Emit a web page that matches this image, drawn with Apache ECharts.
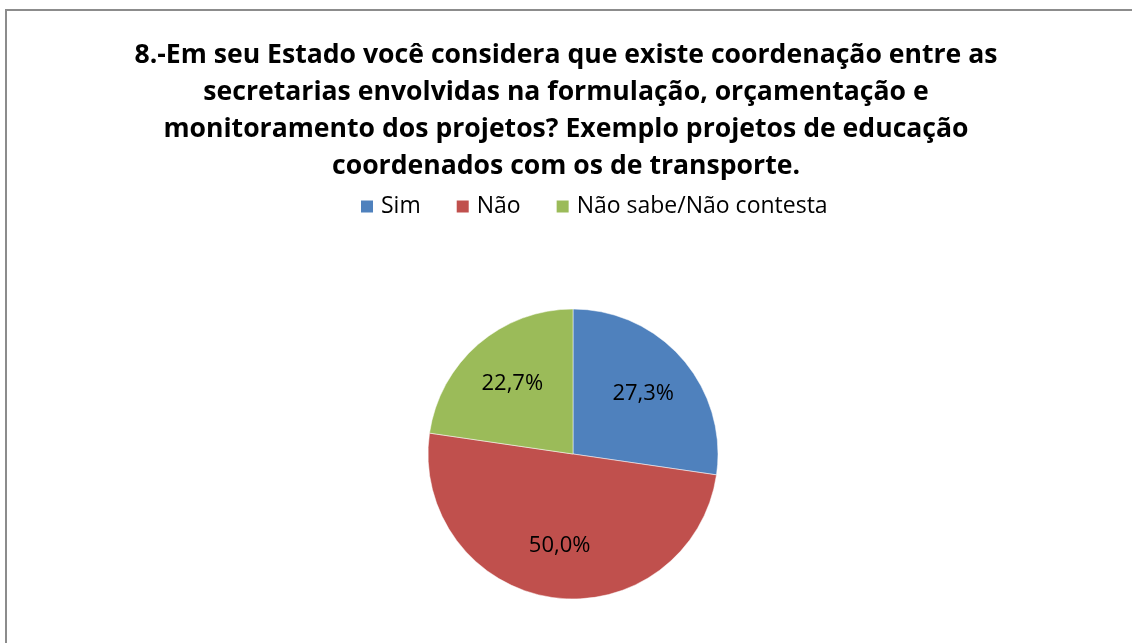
<!DOCTYPE html>
<html lang="pt">
<head>
  <meta charset="UTF-8">
  <title>Coordenação entre secretarias</title>
  <script src="https://cdn.jsdelivr.net/npm/echarts@6/dist/echarts.min.js"></script>
  <style>
    html, body { margin: 0; padding: 0; background: #fff; }
    #chart { width: 1132px; height: 643px; }
  </style>
</head>
<body>
  <div id="chart"></div>
<script>
  const titleText = '8.-Em seu Estado você considera que existe coordenação entre as\nsecretarias envolvidas na formulação, orçamentação e\nmonitoramento dos projetos? Exemplo projetos de educação\ncoordenados com os de transporte.';
  const categories = ['Sim', 'Não', 'Não sabe/Não contesta'];
  const values = [27.3, 50.0, 22.7];
  const colors = ['#4F81BD', '#C0504D', '#9BBB59'];

  const cx = 573, cy = 454, r = 145;
  const total = values.reduce((a, b) => a + b, 0);
  // mid angle of each slice, clockwise from 12 o'clock
  const midAngles = [];
  let acc = 0;
  values.forEach(v => {
    midAngles.push((acc + v / 2) / total * 2 * Math.PI);
    acc += v;
  });

  const chart = echarts.init(document.getElementById('chart'));
  chart.setOption({
    animation: false,
    color: colors,
    title: {
      text: titleText,
      left: 'center',
      top: 32,
      textStyle: {
        fontFamily: 'Open Sans',
        fontWeight: 'bold',
        fontSize: 26.6,
        lineHeight: 37,
        color: '#000'
      }
    },
    legend: {
      data: categories,
      top: 190,
      left: 354,
      itemWidth: 14,
      itemHeight: 14,
      itemGap: 34,
      icon: 'rect',
      textStyle: {
        fontFamily: 'Open Sans',
        fontSize: 23,
        color: '#000',
        padding: [0, 0, 0, 2]
      }
    },
    graphic: [{
      type: 'rect',
      shape: { x: 6, y: 10, width: 1300, height: 800 },
      style: { fill: 'none', stroke: '#8c8c8c', lineWidth: 2 },
      silent: true
    }],
    series: [{
      type: 'pie',
      center: [cx, cy],
      radius: r,
      startAngle: 90,
      clockwise: true,
      data: categories.map((c, i) => ({ name: c, value: values[i] })),
      itemStyle: { borderColor: '#fff', borderWidth: 0.5 },
      label: {
        show: true,
        position: 'inside',
        fontFamily: 'Open Sans',
        fontSize: 22,
        color: '#000',
        formatter: p => p.value.toFixed(1).replace('.', ',') + '%'
      },
      labelLine: { show: false },
      labelLayout: p => {
        const a = midAngles[p.dataIndex];
        return {
          x: cx + 0.64 * r * Math.sin(a),
          y: cy - 0.64 * r * Math.cos(a),
          align: 'center',
          verticalAlign: 'middle'
        };
      }
    }]
  });
</script>
</body>
</html>
